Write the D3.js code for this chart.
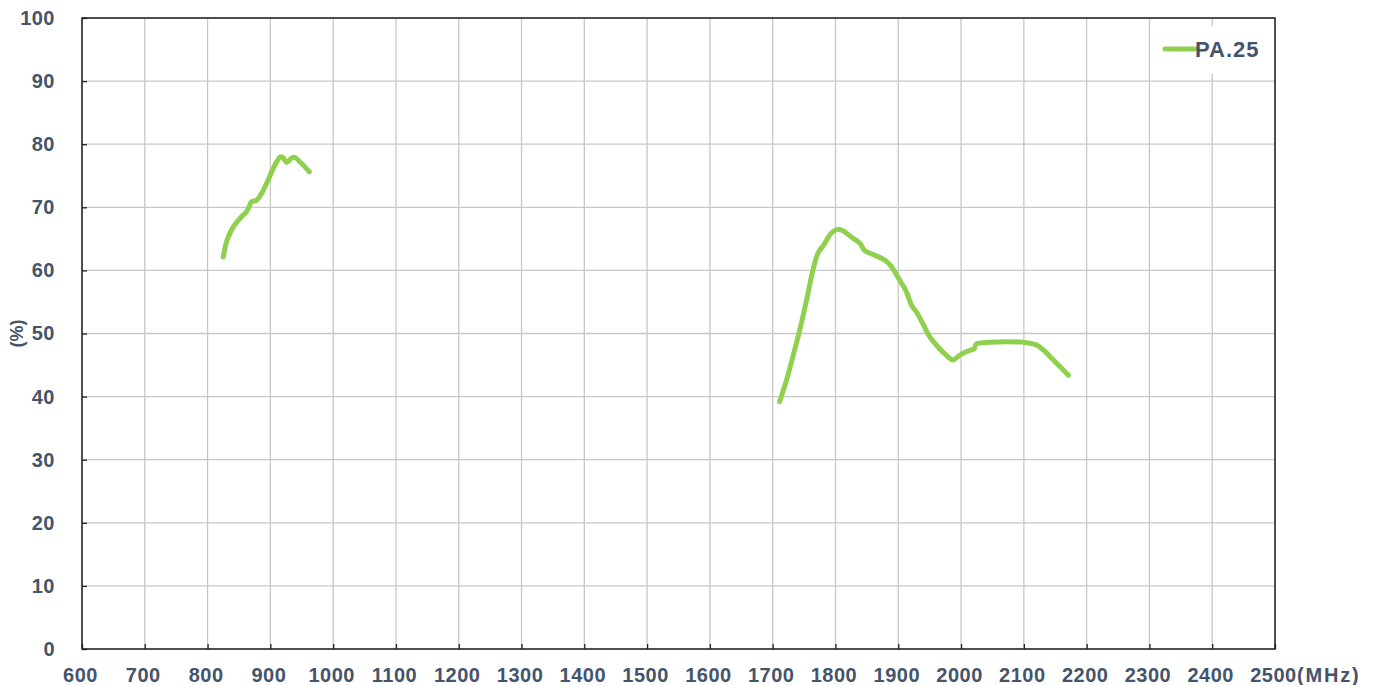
<!DOCTYPE html>
<html>
<head>
<meta charset="utf-8">
<script src="https://d3js.org/d3.v7.min.js"></script>
<style>
  body { margin: 0; background: #fff; }
  text { font-family: "Liberation Sans", Arial, sans-serif; font-weight: bold; fill: #44546a; }
</style>
</head>
<body>
<div id="chart"></div>
<script>
// band 1 (low band) - frequency (MHz) and efficiency (%)
const band1Freq = [825, 831, 841, 854, 862, 867, 870, 878, 886, 894, 902, 910, 916, 920, 926, 934, 939, 947, 955, 962];
const band1Eff  = [62.1, 64.8, 66.9, 68.5, 69.3, 70.3, 70.9, 71.1, 72.2, 73.8, 75.6, 77.2, 78.0, 77.9, 77.1, 77.8, 77.9, 77.2, 76.4, 75.6];

// band 2 (high band)
const band2Freq = [1711, 1722, 1732, 1743, 1754, 1764, 1772, 1783, 1793, 1803, 1812, 1825, 1839, 1846, 1855, 1865, 1879, 1889, 1902, 1913, 1921, 1929, 1939, 1950, 1963, 1976, 1987, 1997, 2008, 2016, 2021, 2024, 2046, 2072, 2099, 2120, 2131, 2147, 2171];
const band2Eff  = [39.2, 42.6, 46.3, 50.5, 55.3, 60.0, 62.7, 64.3, 65.9, 66.5, 66.3, 65.3, 64.3, 63.2, 62.7, 62.3, 61.6, 60.6, 58.5, 56.6, 54.5, 53.4, 51.6, 49.5, 47.9, 46.6, 45.8, 46.5, 47.1, 47.4, 47.6, 48.3, 48.6, 48.7, 48.6, 48.2, 47.4, 45.8, 43.4];

const xTicks = d3.range(600, 2501, 100);
const yTicks = d3.range(0, 101, 10);
const seriesName = "PA.25";

const W = 1379, H = 685;
const margin = {left: 82, right: 104, top: 18, bottom: 36};

const svg = d3.select("#chart").append("svg")
  .attr("width", W).attr("height", H);

const x = d3.scaleLinear().domain([600, 2500]).range([margin.left, W - margin.right]);
const y = d3.scaleLinear().domain([0, 100]).range([H - margin.bottom, margin.top]);

// gridlines
svg.append("g").selectAll("line").data(xTicks).join("line")
  .attr("x1", d => x(d)).attr("x2", d => x(d))
  .attr("y1", y(100)).attr("y2", y(0))
  .attr("stroke", "#c8c8c8").attr("stroke-width", 1.3);
svg.append("g").selectAll("line").data(yTicks).join("line")
  .attr("x1", x(600)).attr("x2", x(2500))
  .attr("y1", d => y(d)).attr("y2", d => y(d))
  .attr("stroke", "#c8c8c8").attr("stroke-width", 1.3);

// legend background (hides grid)
svg.append("rect")
  .attr("x", 1152).attr("y", 26).attr("width", 120).attr("height", 48)
  .attr("fill", "#fff");

// axes with small inner ticks
const xAxis = svg.append("g")
  .attr("transform", `translate(0,${y(0)})`)
  .call(d3.axisBottom(x).tickValues(xTicks).tickSize(-5).tickPadding(18).tickFormat(d3.format("d")));
const yAxis = svg.append("g")
  .attr("transform", `translate(${x(600)},0)`)
  .call(d3.axisLeft(y).tickValues(yTicks).tickSize(-5).tickPadding(27));

[xAxis, yAxis].forEach(g => {
  g.select(".domain").remove();
  g.selectAll(".tick line").attr("stroke", "#222").attr("stroke-width", 1.3);
  g.selectAll(".tick text")
    .style("font-family", '"Liberation Sans", Arial, sans-serif')
    .style("font-weight", "bold")
    .style("font-size", "20px")
    .style("letter-spacing", "0.5px")
    .attr("fill", "#44546a");
});
xAxis.selectAll(".tick text").attr("dy", "0.75em").attr("dx", "-2");

// frame
svg.append("rect")
  .attr("x", x(600)).attr("y", y(100))
  .attr("width", x(2500) - x(600)).attr("height", y(0) - y(100))
  .attr("fill", "none").attr("stroke", "#222").attr("stroke-width", 1.5);

// unit labels
svg.append("text")
  .attr("x", x(2500) + 22).attr("y", y(0) + 18)
  .attr("dy", "0.75em")
  .style("font-size", "20px")
  .style("letter-spacing", "1.8px")
  .text("(MHz)");
svg.append("text")
  .attr("transform", `translate(23,${y(50)}) rotate(-90)`)
  .attr("text-anchor", "middle")
  .style("font-size", "18px")
  .text("(%)");

// lines
const line = d3.line()
  .x(d => x(d[0])).y(d => y(d[1]))
  .curve(d3.curveCatmullRom);

[[band1Freq, band1Eff], [band2Freq, band2Eff]].forEach(([f, e]) => {
  svg.append("path")
    .datum(f.map((v, i) => [v, e[i]]))
    .attr("d", line)
    .attr("fill", "none")
    .attr("stroke", "#8fd14f")
    .attr("stroke-width", 5)
    .attr("stroke-linecap", "round")
    .attr("stroke-linejoin", "round");
});

// legend
svg.append("line")
  .attr("x1", 1165).attr("x2", 1195).attr("y1", 49).attr("y2", 49)
  .attr("stroke", "#8fd14f").attr("stroke-width", 5).attr("stroke-linecap", "round");
svg.append("text")
  .attr("x", 1195).attr("y", 57)
  .style("font-size", "22px")
  .style("letter-spacing", "1px")
  .text(seriesName);
</script>
</body>
</html>
